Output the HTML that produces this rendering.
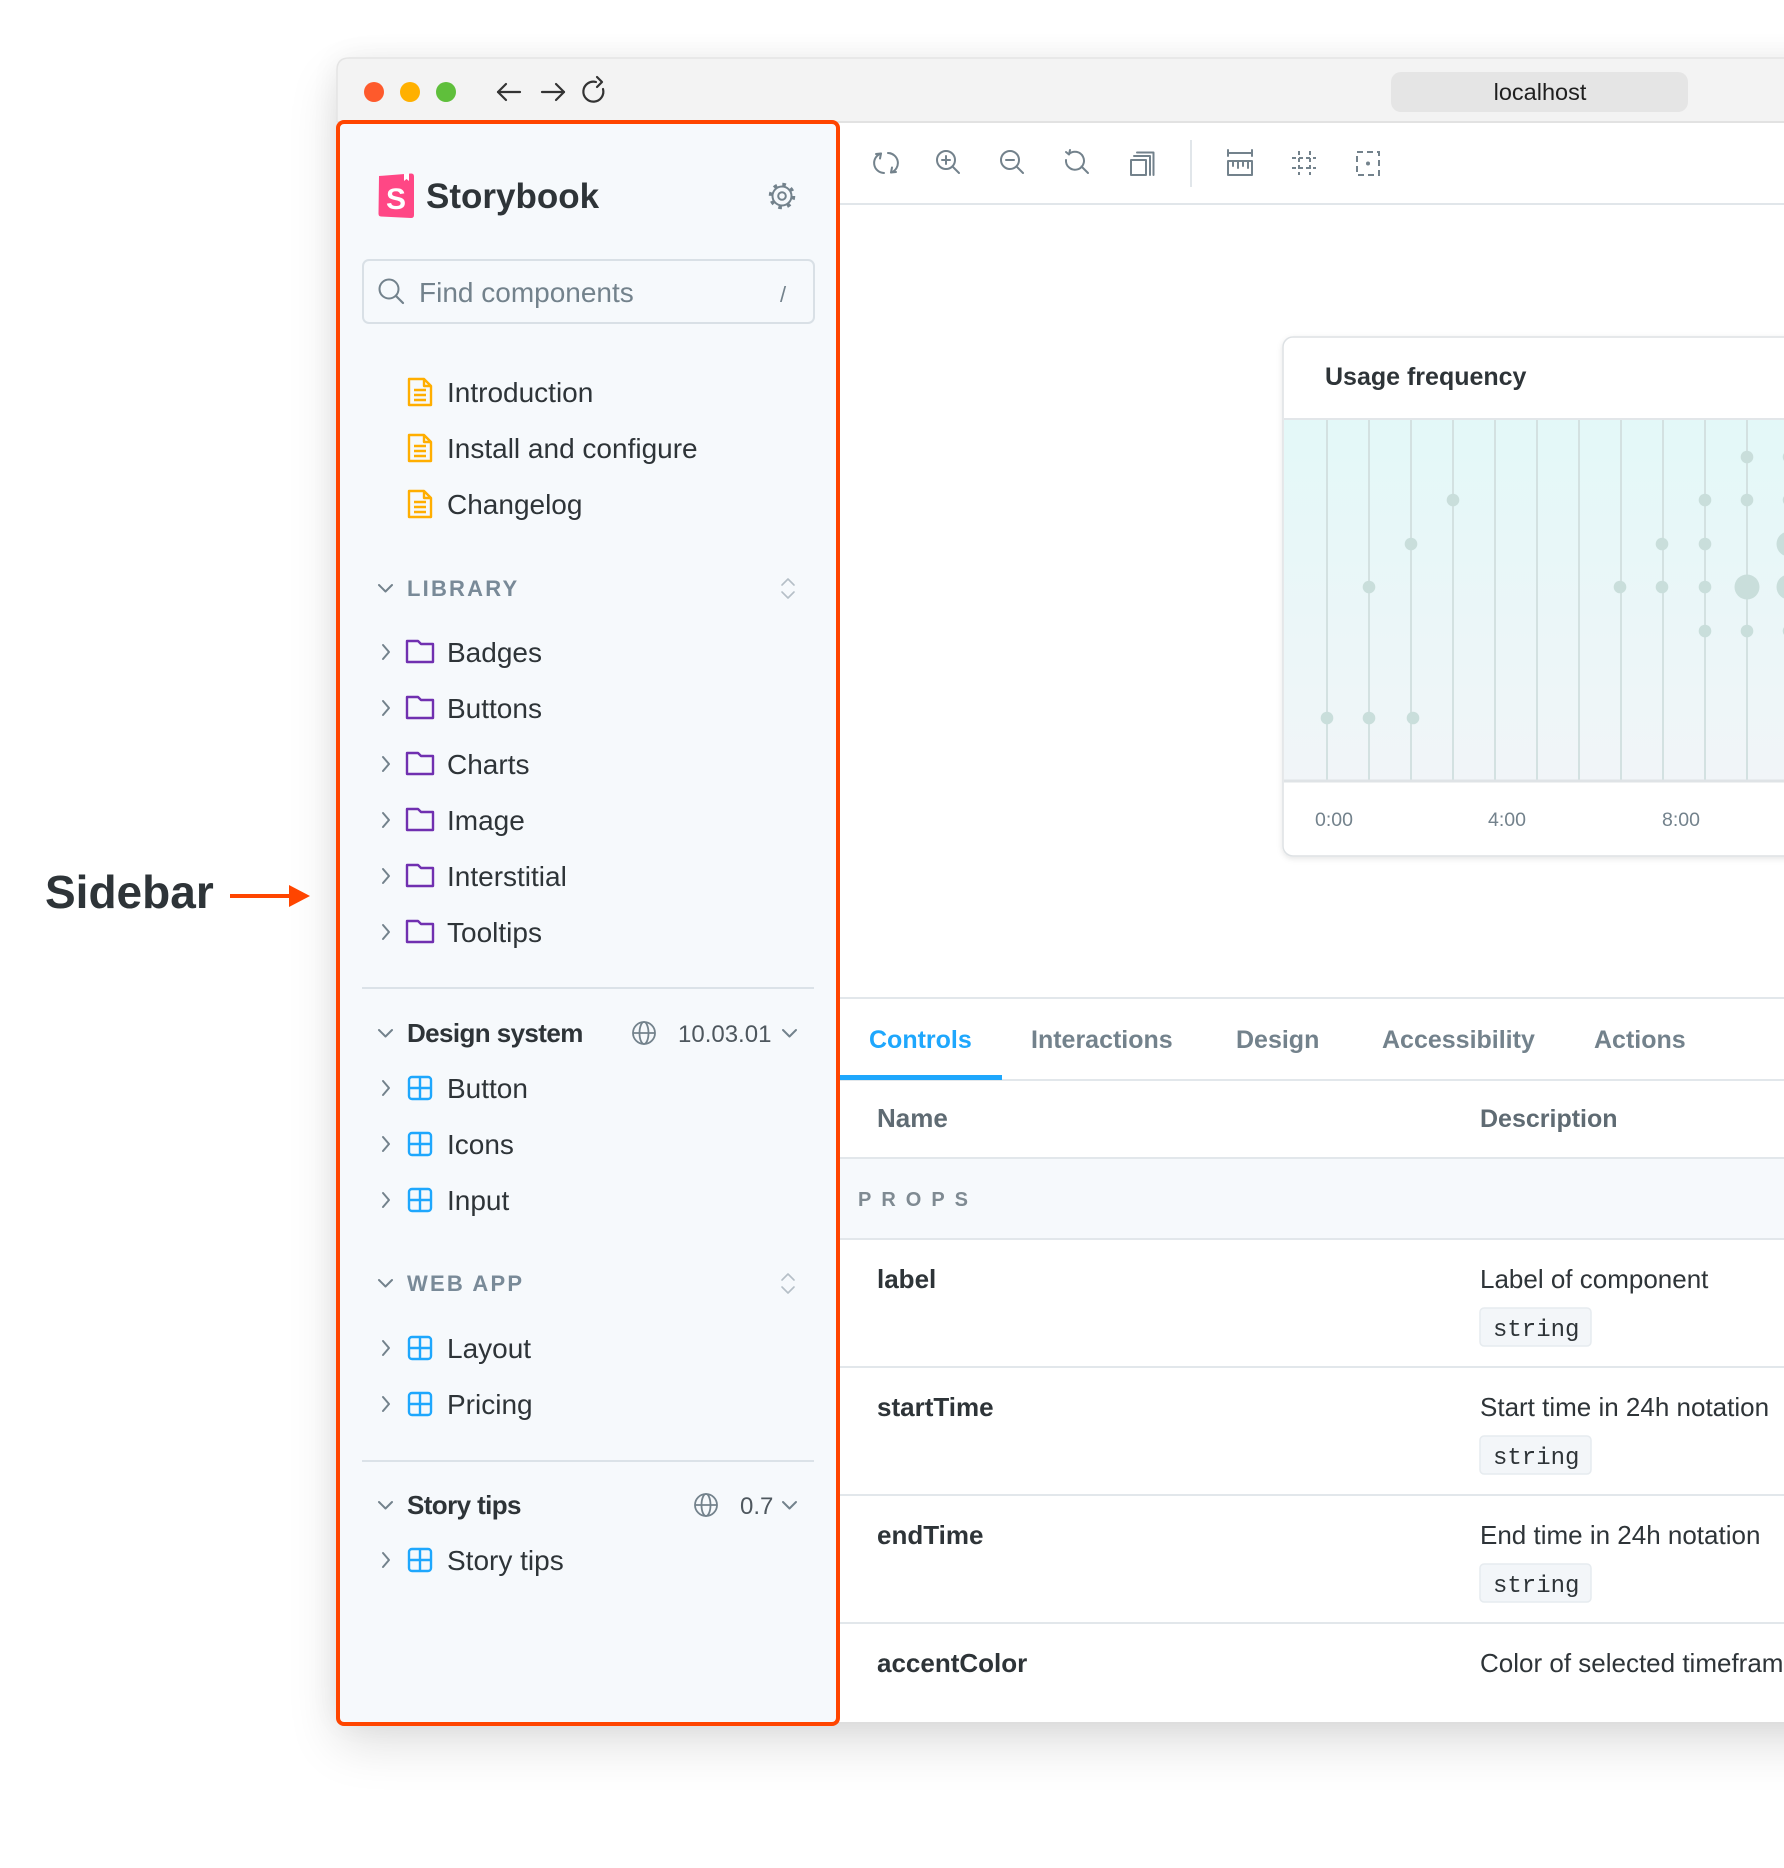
<!DOCTYPE html>
<html><head><meta charset="utf-8">
<style>
html,body{margin:0;padding:0;background:#fff;}
body{width:1784px;height:1868px;overflow:hidden;position:relative;font-family:"Liberation Sans",sans-serif;}
#win{position:absolute;left:337px;top:58px;width:1520px;height:1664px;border-radius:12px 0 0 12px;background:#fff;box-shadow:0 22px 50px rgba(0,0,0,0.13),0 0 30px rgba(0,0,0,0.06);}
svg{position:absolute;left:0;top:0;}
</style></head>
<body>
<div id="win"></div>
<svg width="1784" height="1868" viewBox="0 0 1784 1868" xmlns="http://www.w3.org/2000/svg" font-family="'Liberation Sans', sans-serif">
<defs>
<linearGradient id="cg" x1="0" y1="0" x2="0" y2="1">
<stop offset="0" stop-color="#e3f8f8"/>
<stop offset="1" stop-color="#f1f5f8"/>
</linearGradient>
<filter id="cs" x="-10%" y="-10%" width="130%" height="130%">
<feDropShadow dx="0" dy="2" stdDeviation="3" flood-color="#000" flood-opacity="0.10"/>
</filter>
</defs>

<!-- Title bar -->
<path d="M337,122 V70 Q337,58 349,58 H1784 V122 Z" fill="#f3f3f3"/>
<path d="M337,122 V70 Q337,58 349,58 H1784" fill="none" stroke="#e4e4e4" stroke-width="1.5"/>
<line x1="337" y1="122" x2="1784" y2="122" stroke="#e2e2e2" stroke-width="2"/>
<circle cx="374" cy="92" r="10" fill="#fe5a2c"/>
<circle cx="410" cy="92" r="10" fill="#ffb000"/>
<circle cx="446" cy="92" r="10" fill="#5fbf3b"/>
<g stroke="#333" stroke-width="2.2" fill="none" stroke-linecap="round" stroke-linejoin="round">
<line x1="498" y1="92" x2="520" y2="92"/><polyline points="506,84 498,92 506,100"/>
<line x1="542" y1="92" x2="564" y2="92"/><polyline points="556,84 564,92 556,100"/>
<path d="M603,89 A10,10 0 1 1 596,82"/><polyline points="597,77 602,82 597,87"/>
</g>
<rect x="1391" y="72" width="297" height="40" rx="10" fill="#e5e5e5"/>
<text x="1540" y="100" font-size="23.5" fill="#1f1f1f" text-anchor="middle">localhost</text>

<!-- Right panel toolbar -->
<rect x="840" y="123" width="944" height="1599" fill="#fff"/>
<line x1="840" y1="204" x2="1784" y2="204" stroke="#e1e6ea" stroke-width="2"/>
<g stroke="#73828c" stroke-width="2" fill="none" stroke-linecap="round" stroke-linejoin="round">
<path d="M881,153.5 A10,10 0 0 0 884,173"/><polyline points="876,154 881,153.5 880,158.5"/>
<path d="M891,172.5 A10,10 0 0 0 888,153"/><polyline points="896,172 891,172.5 892,167.5"/>
<circle cx="946" cy="160" r="9"/><line x1="952.5" y1="166.5" x2="959" y2="173"/><line x1="942" y1="160" x2="950" y2="160"/><line x1="946" y1="156" x2="946" y2="164"/>
<circle cx="1010" cy="160" r="9"/><line x1="1016.5" y1="166.5" x2="1023" y2="173"/><line x1="1006" y1="160" x2="1014" y2="160"/>
<path d="M1069,154 A9,9 0 1 1 1066,160"/><polyline points="1066,152 1069,154.5 1070,150"/><line x1="1081.5" y1="166.5" x2="1088" y2="173"/>
<rect x="1131" y="160" width="15" height="15"/><polyline points="1134,156 1150,156 1150,175"/><polyline points="1137,152.5 1153.5,152.5 1153.5,175"/>
<line x1="1228" y1="153" x2="1252" y2="153"/><line x1="1228" y1="150" x2="1228" y2="156"/><line x1="1252" y1="150" x2="1252" y2="156"/>
<rect x="1228" y="161" width="24" height="14"/><line x1="1233" y1="161" x2="1233" y2="166"/><line x1="1238" y1="161" x2="1238" y2="168"/><line x1="1243" y1="161" x2="1243" y2="166"/><line x1="1248" y1="161" x2="1248" y2="168"/>
</g>
<line x1="1191" y1="140" x2="1191" y2="187" stroke="#e1e6ea" stroke-width="2"/>
<g stroke="#73828c" stroke-width="2" fill="none" stroke-dasharray="4 3">
<line x1="1299" y1="151" x2="1299" y2="175"/><line x1="1310" y1="151" x2="1310" y2="175"/>
<line x1="1292" y1="158" x2="1316" y2="158"/><line x1="1292" y1="168" x2="1316" y2="168"/>
<rect x="1357" y="152" width="22" height="23" stroke-dasharray="6 4"/>
</g>
<circle cx="1368" cy="163.5" r="2" fill="#73828c"/>

<!-- Chart card -->
<rect x="1283" y="337" width="540" height="519" rx="10" fill="#fff" stroke="#dde1e4" stroke-width="1.5" filter="url(#cs)"/>
<text x="1325" y="385" font-size="25" font-weight="bold" fill="#2e3438">Usage frequency</text>
<rect x="1284" y="419" width="520" height="362" fill="url(#cg)"/>
<line x1="1284" y1="419" x2="1784" y2="419" stroke="#e2e6e9" stroke-width="2"/>
<g stroke="#d3e1e1" stroke-width="2">
<line x1="1327" y1="420" x2="1327" y2="780"/><line x1="1369" y1="420" x2="1369" y2="780"/>
<line x1="1411" y1="420" x2="1411" y2="780"/><line x1="1453" y1="420" x2="1453" y2="780"/>
<line x1="1495" y1="420" x2="1495" y2="780"/><line x1="1537" y1="420" x2="1537" y2="780"/>
<line x1="1579" y1="420" x2="1579" y2="780"/><line x1="1621" y1="420" x2="1621" y2="780"/>
<line x1="1663" y1="420" x2="1663" y2="780"/><line x1="1705" y1="420" x2="1705" y2="780"/>
<line x1="1747" y1="420" x2="1747" y2="780"/><line x1="1789" y1="420" x2="1789" y2="780"/>
</g>
<line x1="1284" y1="781" x2="1784" y2="781" stroke="#dfe3e6" stroke-width="3"/>
<g fill="#c9dedb">
<circle cx="1327" cy="718" r="6.3"/>
<circle cx="1369" cy="587" r="6.3"/><circle cx="1369" cy="718" r="6.3"/>
<circle cx="1411" cy="544" r="6.3"/><circle cx="1413" cy="718" r="6.3"/>
<circle cx="1453" cy="500" r="6.3"/>
<circle cx="1620" cy="587" r="6.3"/>
<circle cx="1662" cy="544" r="6.3"/><circle cx="1662" cy="587" r="6.3"/>
<circle cx="1705" cy="500" r="6.3"/><circle cx="1705" cy="544" r="6.3"/><circle cx="1705" cy="587" r="6.3"/><circle cx="1705" cy="631" r="6.3"/>
<circle cx="1747" cy="457" r="6.3"/><circle cx="1747" cy="500" r="6.3"/><circle cx="1747" cy="587" r="12.5"/><circle cx="1747" cy="631" r="6.3"/>
<circle cx="1789" cy="457" r="6.3"/><circle cx="1789" cy="500" r="6.3"/><circle cx="1789" cy="544" r="12.5"/><circle cx="1789" cy="587" r="12.5"/><circle cx="1789" cy="631" r="6.3"/>
</g>
<g font-size="19.5" fill="#73828c">
<text x="1315" y="826">0:00</text><text x="1488" y="826">4:00</text><text x="1662" y="826">8:00</text>
</g>

<!-- Tabs -->
<line x1="840" y1="998" x2="1784" y2="998" stroke="#e2e7eb" stroke-width="2"/>
<line x1="840" y1="1080" x2="1784" y2="1080" stroke="#e2e7eb" stroke-width="2"/>
<rect x="840" y="1075" width="162" height="5" fill="#1ea7fd"/>
<g font-size="25" font-weight="bold" fill="#73828c">
<text x="869" y="1048" fill="#1ea7fd">Controls</text>
<text x="1031" y="1048">Interactions</text>
<text x="1236" y="1048">Design</text>
<text x="1382" y="1048">Accessibility</text>
<text x="1594" y="1048">Actions</text>
</g>

<!-- Table -->
<g font-weight="bold" fill="#5f6b73">
<text x="877" y="1127" font-size="26">Name</text><text x="1480" y="1127" font-size="25">Description</text>
</g>
<rect x="840" y="1159" width="944" height="79" fill="#f6f9fc"/>
<line x1="840" y1="1158" x2="1784" y2="1158" stroke="#e2e7eb" stroke-width="2"/>
<line x1="840" y1="1239" x2="1784" y2="1239" stroke="#e2e7eb" stroke-width="2"/>
<text x="858" y="1206" font-size="20" font-weight="bold" fill="#7f8a92" letter-spacing="10">PROPS</text>
<g stroke="#e2e7eb" stroke-width="2">
<line x1="840" y1="1367" x2="1784" y2="1367"/><line x1="840" y1="1495" x2="1784" y2="1495"/><line x1="840" y1="1623" x2="1784" y2="1623"/>
</g>
<g font-size="26" font-weight="bold" fill="#2e3438">
<text x="877" y="1288">label</text><text x="877" y="1416">startTime</text><text x="877" y="1544">endTime</text><text x="877" y="1672">accentColor</text>
</g>
<g font-size="26" fill="#2e3438">
<text x="1480" y="1288">Label of component</text><text x="1480" y="1416">Start time in 24h notation</text><text x="1480" y="1544">End time in 24h notation</text><text x="1480" y="1672">Color of selected timeframe</text>
</g>
<g fill="#f3f6f9" stroke="#e6ebef" stroke-width="1.5">
<rect x="1480" y="1308" width="111" height="38" rx="4"/><rect x="1480" y="1436" width="111" height="38" rx="4"/><rect x="1480" y="1564" width="111" height="38" rx="4"/>
</g>
<g font-family="'Liberation Mono', monospace" font-size="24" fill="#2e3438">
<text x="1493" y="1336">string</text><text x="1493" y="1464">string</text><text x="1493" y="1592">string</text>
</g>

<!-- Sidebar -->
<rect x="338" y="122" width="500" height="1602" rx="6" fill="#f6f9fc"/>
<path d="M379,176 L411,173.5 Q414,173.3 414,176.5 L414,215 Q414,218 411,218 L381,216.5 Q378.5,216.4 378.5,213.5 Z" fill="#ff4785"/>
<path d="M404,173.8 L404,181 L406.5,179 L409,181 L409,173.4 Z" fill="#fff"/>
<text x="396" y="209" font-size="30" font-weight="bold" fill="#fff" text-anchor="middle">S</text>
<text x="426" y="208" font-size="35" font-weight="bold" fill="#2e3438">Storybook</text>
<g fill="none" stroke="#73828c">
<circle cx="782" cy="196" r="9.5" stroke-width="2"/>
<circle cx="782" cy="196" r="11.5" stroke-width="3.5" stroke-dasharray="3.6 5.43"/>
<circle cx="782" cy="196" r="3.8" stroke-width="2"/>
</g>
<rect x="363" y="260" width="451" height="63" rx="6" fill="#f6f9fc" stroke="#d9e0e6" stroke-width="2"/>
<circle cx="389" cy="289" r="9.5" fill="none" stroke="#73828c" stroke-width="2"/>
<line x1="396" y1="296" x2="403" y2="303" stroke="#73828c" stroke-width="2.2" stroke-linecap="round"/>
<text x="419" y="302" font-size="28" fill="#73828c">Find components</text>
<text x="780" y="302" font-size="22" fill="#73828c">/</text>

<g fill="none" stroke="#ffae00" stroke-width="2.4" stroke-linejoin="round">
<path d="M409,379 H424 L431,386 V405 H409 Z M424,379 V386 H431"/><path d="M414,390 H426 M414,395 H426 M414,400 H426"/>
<path d="M409,435 H424 L431,442 V461 H409 Z M424,435 V442 H431"/><path d="M414,446 H426 M414,451 H426 M414,456 H426"/>
<path d="M409,491 H424 L431,498 V517 H409 Z M424,491 V498 H431"/><path d="M414,502 H426 M414,507 H426 M414,512 H426"/>
</g>
<g font-size="28" fill="#2e3438">
<text x="447" y="402">Introduction</text>
<text x="447" y="458">Install and configure</text>
<text x="447" y="514">Changelog</text>
<text x="447" y="662">Badges</text>
<text x="447" y="718">Buttons</text>
<text x="447" y="774">Charts</text>
<text x="447" y="830">Image</text>
<text x="447" y="886">Interstitial</text>
<text x="447" y="942">Tooltips</text>
<text x="447" y="1098">Button</text>
<text x="447" y="1154">Icons</text>
<text x="447" y="1210">Input</text>
<text x="447" y="1358">Layout</text>
<text x="447" y="1414">Pricing</text>
<text x="447" y="1570">Story tips</text>
</g>
<g font-size="22" font-weight="bold" fill="#798a98" letter-spacing="2.2">
<text x="407" y="596">LIBRARY</text>
<text x="407" y="1291">WEB APP</text>
</g>
<g font-size="26" font-weight="bold" fill="#2e3438" letter-spacing="-0.6">
<text x="407" y="1042">Design system</text>
<text x="407" y="1514">Story tips</text>
</g>
<g font-size="24" fill="#4e575e">
<text x="678" y="1042">10.03.01</text>
<text x="740" y="1514">0.7</text>
</g>
<g fill="none" stroke="#73828c" stroke-width="2" stroke-linecap="round" stroke-linejoin="round">
<polyline points="379,585 385.5,591.5 392,585"/>
<polyline points="379,1030 385.5,1036.5 392,1030"/>
<polyline points="379,1280 385.5,1286.5 392,1280"/>
<polyline points="379,1502 385.5,1508.5 392,1502"/>
<polyline points="783,1030 789.5,1036.5 796,1030"/>
<polyline points="783,1502 789.5,1508.5 796,1502"/>
<polyline points="383,645 389,652 383,659"/>
<polyline points="383,701 389,708 383,715"/>
<polyline points="383,757 389,764 383,771"/>
<polyline points="383,813 389,820 383,827"/>
<polyline points="383,869 389,876 383,883"/>
<polyline points="383,925 389,932 383,939"/>
<polyline points="383,1081 389,1088 383,1095"/>
<polyline points="383,1137 389,1144 383,1151"/>
<polyline points="383,1193 389,1200 383,1207"/>
<polyline points="383,1341 389,1348 383,1355"/>
<polyline points="383,1397 389,1404 383,1411"/>
<polyline points="383,1553 389,1560 383,1567"/>
</g>
<g fill="none" stroke="#b5bfc7" stroke-width="1.6" stroke-linecap="round" stroke-linejoin="round">
<polyline points="782,585 788,579 794,585"/><polyline points="782,592 788,598 794,592"/>
<polyline points="782,1280 788,1274 794,1280"/><polyline points="782,1287 788,1293 794,1287"/>
</g>
<g fill="none" stroke="#73828c" stroke-width="1.8">
<circle cx="644" cy="1033" r="11"/><ellipse cx="644" cy="1033" rx="4.5" ry="11"/><line x1="633" y1="1033" x2="655" y2="1033"/>
<circle cx="706" cy="1505" r="11"/><ellipse cx="706" cy="1505" rx="4.5" ry="11"/><line x1="695" y1="1505" x2="717" y2="1505"/>
</g>
<g fill="none" stroke="#7030b0" stroke-width="2.4" stroke-linejoin="round">
<path d="M407,641 H418 L421,644 H433 V662 H407 Z"/>
<path d="M407,697 H418 L421,700 H433 V718 H407 Z"/>
<path d="M407,753 H418 L421,756 H433 V774 H407 Z"/>
<path d="M407,809 H418 L421,812 H433 V830 H407 Z"/>
<path d="M407,865 H418 L421,868 H433 V886 H407 Z"/>
<path d="M407,921 H418 L421,924 H433 V942 H407 Z"/>
</g>
<g fill="none" stroke="#1ea7fd" stroke-width="2.4">
<rect x="409" y="1077" width="22" height="22" rx="3"/><path d="M420,1077 V1099 M409,1088 H431"/>
<rect x="409" y="1133" width="22" height="22" rx="3"/><path d="M420,1133 V1155 M409,1144 H431"/>
<rect x="409" y="1189" width="22" height="22" rx="3"/><path d="M420,1189 V1211 M409,1200 H431"/>
<rect x="409" y="1337" width="22" height="22" rx="3"/><path d="M420,1337 V1359 M409,1348 H431"/>
<rect x="409" y="1393" width="22" height="22" rx="3"/><path d="M420,1393 V1415 M409,1404 H431"/>
<rect x="409" y="1549" width="22" height="22" rx="3"/><path d="M420,1549 V1571 M409,1560 H431"/>
</g>
<line x1="362" y1="988" x2="814" y2="988" stroke="#dbe2e8" stroke-width="2"/>
<line x1="362" y1="1461" x2="814" y2="1461" stroke="#dbe2e8" stroke-width="2"/>

<rect x="338" y="122" width="500" height="1602" rx="6" fill="none" stroke="#ff4500" stroke-width="4"/>

<text x="45" y="908" font-size="46" font-weight="bold" fill="#2e3438">Sidebar</text>
<line x1="230" y1="896" x2="292" y2="896" stroke="#ff4500" stroke-width="4"/>
<polygon points="289,885 310,896 289,907" fill="#ff4500"/>
</svg>
</body></html>
